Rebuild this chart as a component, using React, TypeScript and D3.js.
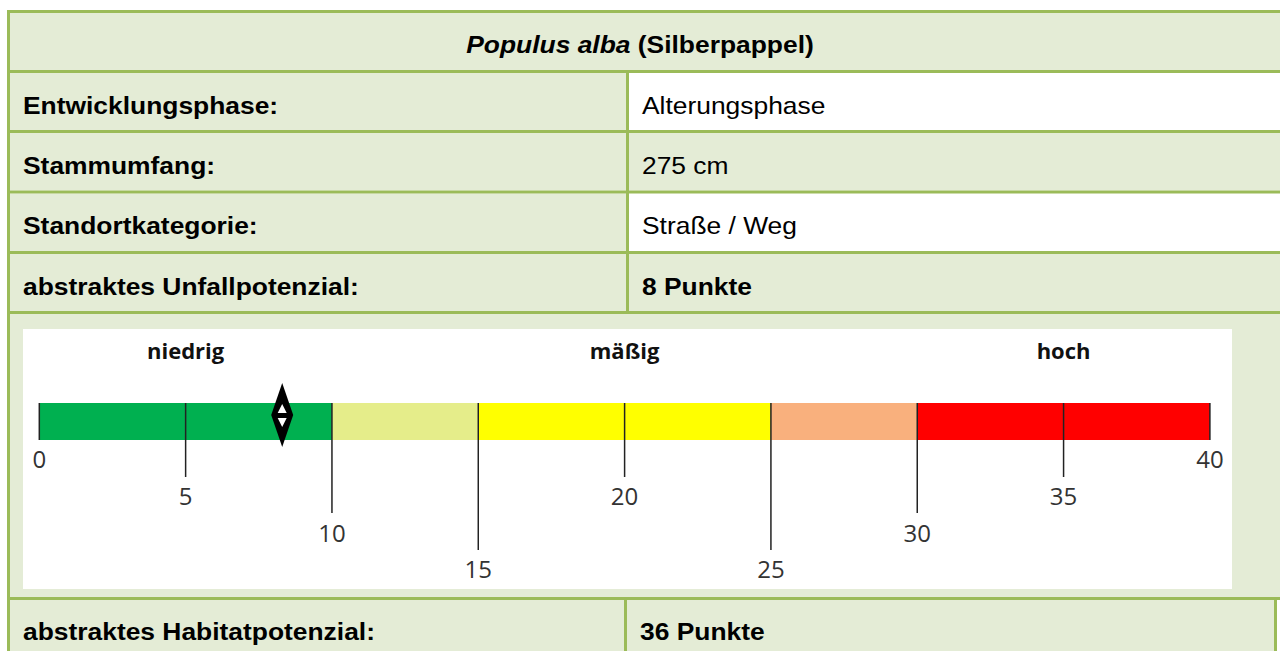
import * as d3 from "d3";

// table contents
const titleItalic = "Populus alba";
const titleRest = " (Silberpappel)";
const rowLabels = ["Entwicklungsphase:", "Stammumfang:", "Standortkategorie:", "abstraktes Unfallpotenzial:"];
const rowValues = ["Alterungsphase", "275 cm", "Straße / Weg", "8 Punkte"];
const valueBold = [false, false, false, true];
const valueWhite = [true, false, true, false];
const lastLabel = "abstraktes Habitatpotenzial:";
const lastValue = "36 Punkte";

// scale of the accident potential
const segStart = [0, 10, 15, 25, 30];
const segEnd = [10, 15, 25, 30, 40];
const segColors = ["#00b050", "#e5ed8a", "#ffff00", "#f9b07d", "#ff0000"];
const tickValues = [0, 5, 10, 15, 20, 25, 30, 35, 40];
const tickLevels = [0, 1, 2, 3, 1, 3, 2, 1, 0];
const categoryNames = ["niedrig", "mäßig", "hoch"];
const categoryPos = [5, 20, 35];
const markerValue = 8.3;

const GREEN = "#9bbb59";
const CELL = "#e4ecd6";
const TXT = "Liberation Sans, Arial, sans-serif";
const CHART_FONT = "Open Sans, Noto Sans, sans-serif";

//текст таблицы, чуть растянутый по горизонтали
const T = ({ x, y, bold, anchor, children }: any) => (
  <text
    transform={`translate(${x},${y}) scale(1.1,1)`}
    textAnchor={anchor || "start"}
    fontFamily={TXT}
    fontSize={24}
    fontWeight={bold ? "bold" : "normal"}
    fill="#000"
  >
    {children}
  </text>
);

export default function App() {
  //горизонтальные границы строк
  const borderY = [11.5, 71.5, 131.5, 192, 252.5, 312.5, 598.5];
  const x = d3.scaleLinear().domain([0, 40]).range([39.3, 1209.9]);
  const barTop = 403;
  const barBottom = 440;
  const tickEnd = [440, 477, 513, 550];
  const labelY = [468, 505, 542, 578];
  const mx = x(markerValue);

  return (
    <svg width={1280} height={651} style={{ position: "absolute", left: 0, top: 0, background: "#fff" }}>
      {/* title row */}
      <rect x={10} y={13} width={1270} height={57} fill={CELL} />
      <T x={640} y={53} bold anchor="middle">
        <tspan fontStyle="italic">{titleItalic}</tspan>
        <tspan>{titleRest}</tspan>
      </T>

      {/* data rows */}
      {rowLabels.map((lab, i) => {
        const top = borderY[i + 1] + 1.5;
        const bottom = borderY[i + 2] - 1.5;
        return (
          <g key={lab}>
            <rect x={10} y={top} width={616} height={bottom - top} fill={CELL} />
            <rect x={629} y={top} width={651} height={bottom - top} fill={valueWhite[i] ? "#fff" : CELL} />
            <T x={23} y={borderY[i + 1] + 42} bold>{lab}</T>
            <T x={642} y={borderY[i + 1] + 42} bold={valueBold[i]}>{rowValues[i]}</T>
          </g>
        );
      })}

      {/* chart row */}
      <rect x={10} y={314} width={1270} height={283} fill={CELL} />
      <rect x={23} y={329} width={1209} height={260} fill="#fff" />
      {segStart.map((s, i) => (
        <rect key={s} x={x(s)} y={barTop} width={x(segEnd[i]) - x(s)} height={barBottom - barTop} fill={segColors[i]} />
      ))}
      {tickValues.map((t, i) => (
        <g key={t}>
          <line x1={x(t)} x2={x(t)} y1={barTop} y2={tickEnd[tickLevels[i]]} stroke="#222" strokeWidth={1.5} />
          <text x={x(t)} y={labelY[tickLevels[i]]} textAnchor="middle" fontFamily={CHART_FONT} fontSize={24} fill="#333">
            {t}
          </text>
        </g>
      ))}
      {categoryNames.map((c, i) => (
        <text key={c} x={x(categoryPos[i])} y={359} textAnchor="middle" fontFamily={CHART_FONT} fontSize={22} fontWeight="bold" fill="#111">
          {c}
        </text>
      ))}
      {/* marker */}
      <path d={`M${mx},383 L${mx + 11},415 L${mx},447 L${mx - 11},415 Z`} fill="#000" />
      <path d={`M${mx},404 L${mx + 4.5},413 L${mx - 4.5},413 Z`} fill="#fff" />
      <path d={`M${mx - 4.5},418 L${mx + 4.5},418 L${mx},427 Z`} fill="#fff" />

      {/* last row */}
      <rect x={10} y={600} width={1264} height={51} fill={CELL} />
      <T x={23} y={640} bold>{lastLabel}</T>
      <T x={640} y={640} bold>{lastValue}</T>

      {/* borders */}
      {borderY.map((y) => (
        <line key={y} x1={7} x2={1280} y1={y} y2={y} stroke={GREEN} strokeWidth={3} />
      ))}
      <line x1={8.5} x2={8.5} y1={10} y2={651} stroke={GREEN} strokeWidth={3} />
      <line x1={627.5} x2={627.5} y1={71.5} y2={312.5} stroke={GREEN} strokeWidth={3} />
      <line x1={625.5} x2={625.5} y1={598.5} y2={651} stroke={GREEN} strokeWidth={3} />
      <line x1={1275.5} x2={1275.5} y1={598.5} y2={651} stroke={GREEN} strokeWidth={3} />
    </svg>
  );
}
